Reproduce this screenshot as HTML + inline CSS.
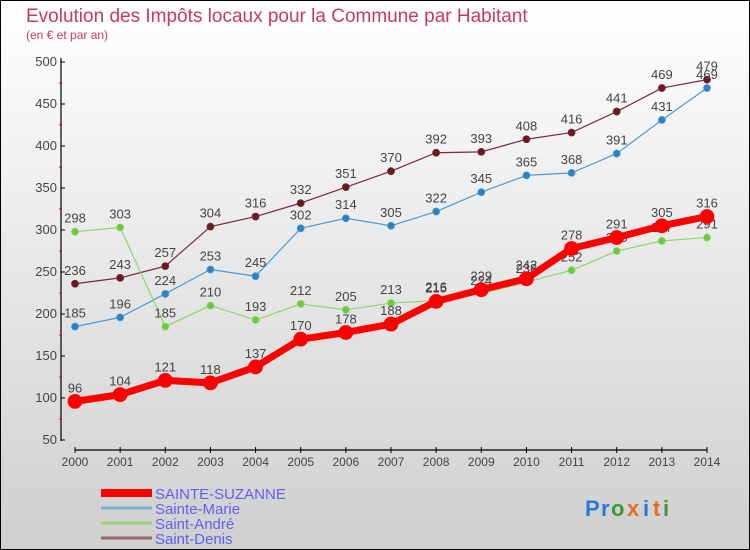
<!DOCTYPE html>
<html><head><meta charset="utf-8"><style>
body{margin:0;}
#c{width:750px;height:550px;position:relative;background:linear-gradient(#fff,#cfcfcf);box-sizing:border-box;border:1px solid #000;font-family:"Liberation Sans","DejaVu Sans",sans-serif;}
</style></head><body>
<div id="c">
<svg width="750" height="550" style="position:absolute;left:-1px;top:-1px" id="s">
<text x="26" y="22" font-size="19" fill="#c8385f">Evolution des Impôts locaux pour la Commune par Habitant</text>
<text x="26" y="39" font-size="12" fill="#c8385f">(en € et par an)</text>
</svg>
</div>
<script>
const years=[2000,2001,2002,2003,2004,2005,2006,2007,2008,2009,2010,2011,2012,2013,2014];
const ss=[96,104,121,118,137,170,178,188,215,229,242,278,291,305,316];
const sm=[185,196,224,253,245,302,314,305,322,345,365,368,391,431,469];
const sa=[298,303,185,210,193,212,205,213,216,224,238,252,275,287,291];
const sd=[236,243,257,304,316,332,351,370,392,393,408,416,441,469,479];
const yTicks=[50,100,150,200,250,300,350,400,450,500];
const names=["SAINTE-SUZANNE","Sainte-Marie","Saint-André","Saint-Denis"];
const s=document.getElementById('s');const NS='http://www.w3.org/2000/svg';
const X=i=>75+i*(707-75)/14;const Y=v=>440-(v-50)*42/50;
function el(t,a,txt){const e=document.createElementNS(NS,t);for(const k in a)e.setAttribute(k,a[k]);if(txt!==undefined)e.textContent=txt;s.appendChild(e);return e;}
let e;
e=el('line',{x1:61,y1:58,x2:61,y2:441,stroke:'#000','stroke-width':1.2});


e=el('line',{x1:75,y1:450,x2:707,y2:450,stroke:'#000','stroke-width':1.2});


yTicks.forEach(v=>{
 el('line',{x1:61,y1:Y(v),x2:65,y2:Y(v),stroke:'#000'});
 if(v<500)el('line',{x1:59,y1:Y(v+25),x2:62,y2:Y(v+25),stroke:'#e00'});
 e=el('text',{x:57,y:Y(v)+4,'font-size':13,'text-anchor':'end',fill:'#444'},v);
 
 
});
years.forEach((y,i)=>{
 el('line',{x1:X(i),y1:447,x2:X(i),y2:453,stroke:'#000'});
 e=el('text',{x:X(i),y:466,'font-size':12,'text-anchor':'middle',fill:'#444'},y);
 
 
});
function series(d,col,w,r,dot,nm){
 e=el('polyline',{points:d.map((v,i)=>X(i)+','+Y(v)).join(' '),fill:'none',stroke:col,'stroke-width':w,'stroke-linejoin':'round'});
 
 
 d.forEach((v,i)=>{
  e=el('circle',{cx:X(i),cy:Y(v),r:r,fill:dot,stroke:col,'stroke-width':0.8});
  
  
  e=el('text',{x:X(i),y:Y(v)-9,'font-size':13,'text-anchor':'middle',fill:'#444'},v);
  
  
 });
}
series(sd,'#7a2a36',1.2,3.5,'#6a1a22','saint-denis');
series(sm,'#4a9ad4',1.2,3.5,'#2f80c0','sainte-marie');
series(sa,'#8fd46a',1.2,3.5,'#6cc83c','saint-andre');
series(ss,'#f00',7,7,'#f00','sainte-suzanne');
const lc=['#f00','#7ab0d4','#9ad47a','#9a6a6a'],lw=[8,3,3,3];
names.forEach((n,i)=>{
 const y=493+i*15;
 e=el('line',{x1:101,y1:y,x2:152,y2:y,stroke:lc[i],'stroke-width':lw[i]});
 
 
 e=el('text',{x:155,y:y+6,'font-size':15,fill:'#6060f0'},n);
 
 
});
const lg=[['P','#2a7ad4'],['r','#2a7ad4'],['o','#3a9a3a'],['x','#e07020'],['i','#2a7ad4'],['t','#e07020'],['i','#3a9a3a']];
let lx=585;
lg.forEach(([c,col])=>{e=el('text',{x:lx,y:516,'font-size':22,'font-weight':'bold',fill:col},c);
 
 
 lx+= (c==='i'||c==='t'||c==='r')?10:16;});
</script>
</body></html>
